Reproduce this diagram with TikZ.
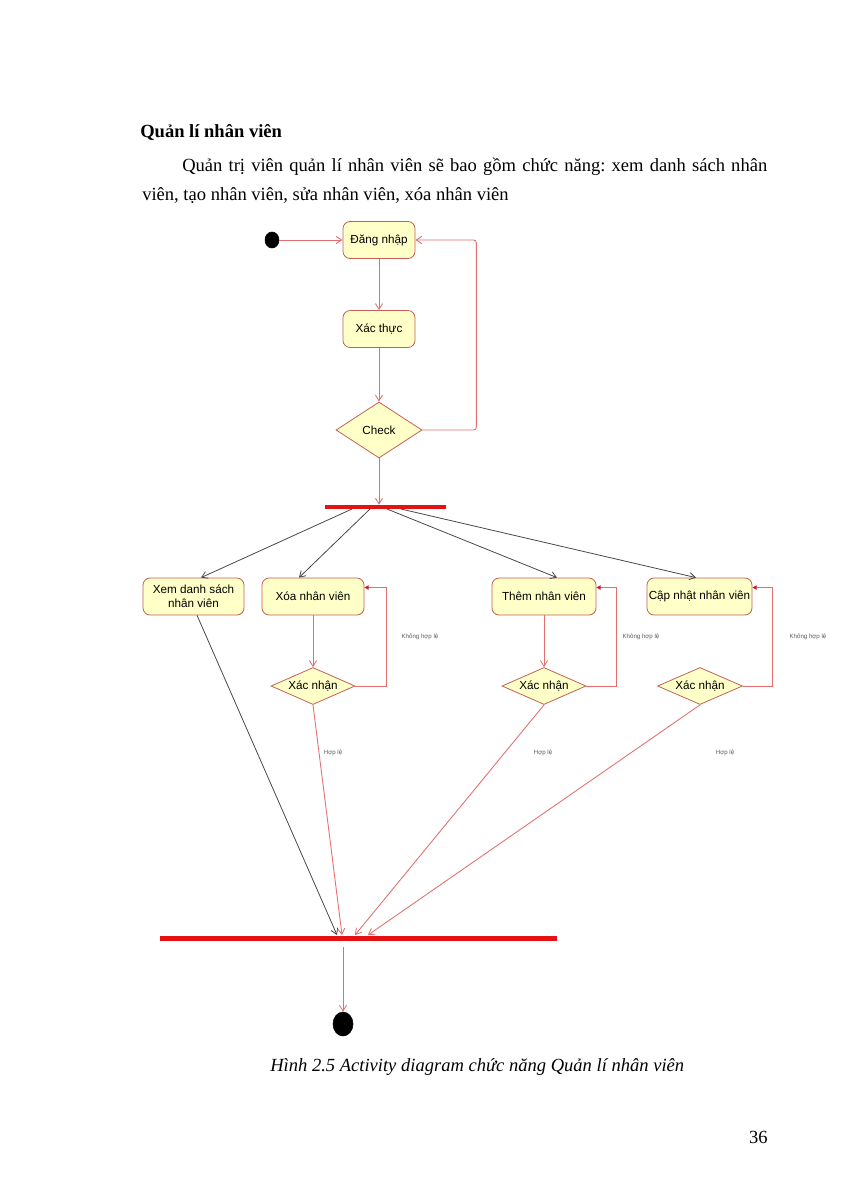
\documentclass[tikz,border=0pt]{standalone}
\usepackage{fontspec}
\setmainfont{Liberation Serif}
\newfontfamily\diagfont{Liberation Sans}
\usetikzlibrary{arrows.meta,shapes.geometric,calc}
\newcommand\pxu{0.7011pt}
\definecolor{boxfill}{RGB}{255,255,200}
\definecolor{boxdraw}{RGB}{195,95,85}
\definecolor{flowred}{RGB}{228,110,110}
\definecolor{darkline}{RGB}{70,70,70}
\definecolor{barred}{RGB}{228,18,18}
\definecolor{loopred}{RGB}{200,25,40}
\definecolor{labelgray}{RGB}{90,90,90}
\frenchspacing
\begin{document}
\begin{tikzpicture}[x=0.7011pt,y=-0.7011pt,
  action/.style={draw=boxdraw, fill=boxfill, rounded corners=5pt, minimum height=37*\pxu,
    inner sep=1pt, font=\diagfont\fontsize{8.2}{9.7}\selectfont, align=center, line width=0.55pt},
  decision/.style={diamond, draw=boxdraw, fill=boxfill, inner sep=0pt, aspect=2,
    font=\diagfont\fontsize{8.2}{9.7}\selectfont, line width=0.55pt},
  syncbar/.style={rectangle, fill=barred, draw=none, inner sep=0pt},
  flow/.style={draw=flowred, line width=0.6pt, -{Straight Barb[length=4pt,width=5pt]}},
  forkline/.style={draw=darkline, line width=0.55pt, -{Straight Barb[length=4pt,width=5pt]}},
  back/.style={draw=flowred, line width=0.65pt, -{Triangle[length=3pt,width=3pt,color=loopred]}},
  tinylabel/.style={font=\diagfont\fontsize{4.3}{5}\selectfont, text=labelgray, inner sep=0pt},
  bodytext/.style={font=\fontsize{13}{15}\selectfont, inner sep=0pt, anchor=base west}
]
\fill[white] (0,0) rectangle (849,1200);
\path[use as bounding box] (0,0) rectangle (849,1200);

% page text
\node[bodytext, font=\bfseries\fontsize{13}{15}\selectfont] (title) at (140,138) {Quản lí nhân viên};
\node[bodytext] (p1) at (182,172) {\makebox[410.1pt][s]{Quản trị viên quản lí nhân viên sẽ bao gồm chức năng: xem danh sách nhân}};
\node[bodytext] (p2) at (142,200) {viên, tạo nhân viên, sửa nhân viên, xóa nhân viên};

% nodes
\node[ellipse, fill=black, draw=black, minimum width=14*\pxu, minimum height=16*\pxu, inner sep=0pt] (init) at (272,240) {};
\node[action, minimum width=72*\pxu] (login) at (379,240) {Đăng nhập};
\node[action, minimum width=72*\pxu] (auth) at (379,329) {Xác thực};
\node[decision, minimum width=86*\pxu, minimum height=56*\pxu] (check) at (379,430) {Check};
\node[syncbar, minimum width=121*\pxu, minimum height=4*\pxu] (fork) at (385.5,507) {};

\node[action, minimum width=101*\pxu] (xem) at (193.5,596.5) {Xem danh sách\\nhân viên};
\node[action, minimum width=102*\pxu] (xoa) at (313,596.5) {Xóa nhân viên};
\node[action, minimum width=104*\pxu] (them) at (544,596.5) {Thêm nhân viên};
\node[action, minimum width=105*\pxu] (capnhat) at (699.5,596.5) {Cập nhật nhân viên};

\node[decision, minimum width=84*\pxu, minimum height=37*\pxu] (xn1) at (313,686) {Xác nhận};
\node[decision, minimum width=84*\pxu, minimum height=37*\pxu] (xn2) at (544,686) {Xác nhận};
\node[decision, minimum width=85*\pxu, minimum height=37*\pxu] (xn3) at (700,686) {Xác nhận};

\node[syncbar, minimum width=397*\pxu, minimum height=5*\pxu] (merge) at (358.5,938) {};
\node[ellipse, fill=black, draw=black, minimum width=20*\pxu, minimum height=24*\pxu, inner sep=0pt] (final) at (343,1024) {};

% labels
\node[tinylabel] (k1) at (420,637) {Không hợp lệ};
\node[tinylabel] (k2) at (641,637) {Không hợp lệ};
\node[tinylabel] (k3) at (808,637) {Không hợp lệ};
\node[tinylabel] (h1) at (333,753) {Hợp lệ};
\node[tinylabel] (h2) at (543,753) {Hợp lệ};
\node[tinylabel] (h3) at (725,753) {Hợp lệ};

% coordinates on the bars
\coordinate (f1) at (352,509);
\coordinate (f2) at (370,509);
\coordinate (f3) at (387,509);
\coordinate (f4) at (401,509);
\coordinate (m1) at (337,935);
\coordinate (m2) at (342,935);
\coordinate (m3) at (355,935);
\coordinate (m4) at (368,935);

% connectors
\draw[flow] (init) -- (login);
\draw[flow] (login) -- (auth);
\draw[flow] (auth) -- (check);
\draw[flow, rounded corners=2pt] (check.east) -- ++(54,0) |- (login.east);
\draw[flow] (check.south) -- (check.south |- fork.north);

\draw[forkline] (f1) -- ([xshift=5.3pt]xem.north);
\draw[forkline] (f2) -- ([xshift=-9.8pt]xoa.north);
\draw[forkline] (f3) -- ([xshift=9.1pt]them.north);
\draw[forkline] (f4) -- ([xshift=-2.5pt]capnhat.north);

\draw[flow] (xoa) -- (xn1);
\draw[flow] (them) -- (xn2);

\draw[back] (xn1.east) -- ++(31,0) |- ([yshift=6.3pt]xoa.east);
\draw[back] (xn2.east) -- ++(30,0) |- ([yshift=6.3pt]them.east);
\draw[back] (xn3.east) -- ++(30,0) |- ([yshift=6.3pt]capnhat.east);

\draw[forkline] ([xshift=2.5pt]xem.south) -- (m1);
\draw[flow] (xn1.south) -- (m2);
\draw[flow] (xn2.south) -- (m3);
\draw[flow] (xn3.south) -- (m4);
\draw[flow] ($(merge.south -| final.north)+(0,6)$) -- (final);

% caption and page number
\node[bodytext, font=\itshape\fontsize{13}{15}\selectfont] (caption) at (270,1071) {Hình 2.5 Activity diagram chức năng Quản lí nhân viên};
\node[bodytext, anchor=base east] (page) at (768,1143) {36};
\end{tikzpicture}
\end{document}
